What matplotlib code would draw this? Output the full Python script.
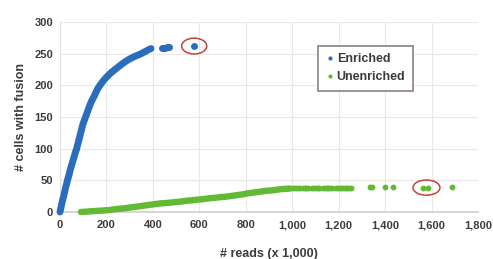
import matplotlib
matplotlib.use("Agg")
import matplotlib.pyplot as plt
from matplotlib.patches import Ellipse

# ---- data (reads in thousands, cumulative # cells with fusion) ----
# continuous (dense) part of each curve
enriched_cells = [0, 5, 10, 15, 20, 25, 30, 35, 40, 45, 50, 55, 60, 65, 70, 75, 80, 85,
                  90, 95, 100, 105, 110, 115, 120, 125, 130, 135, 140, 145, 150, 155,
                  160, 165, 170, 175, 180, 185, 190, 195, 200, 205, 210, 215, 220, 225,
                  230, 235, 240, 245, 250, 253, 256, 258]
enriched_reads = [0, 3, 6, 9, 12, 16, 19, 22, 25, 29, 32, 36, 40, 43, 47, 51, 55, 59,
                  63, 67, 72, 75, 79, 82, 86, 89, 93, 96, 100, 105, 110, 115,
                  120, 125, 130, 136, 143, 150, 156, 163, 172, 182, 193, 206, 220, 237,
                  254, 272, 292, 318, 350, 365, 380, 392]
# isolated high-read cells
enriched_cells_tail = [259, 259, 259, 260, 260, 262]
enriched_reads_tail = [441, 447, 453, 462, 469, 578]

unenriched_reads = [90, 110, 130, 150, 170, 190, 210, 230, 250, 270, 290, 310, 330, 350,
                    370, 390, 410, 430, 450, 470, 490, 510, 530, 550, 570, 590, 610, 630,
                    650, 670, 690, 710, 730, 750, 770, 790, 810, 830, 850, 870, 890, 910,
                    930, 950, 970, 990]
unenriched_cells = [0, 0.5, 1, 1.5, 2, 2.5, 3, 4, 5, 5.5, 6.5, 7.5, 8.5, 9.5,
                    10.5, 11.5, 12.5, 13.5, 14, 14.5, 15.5, 16, 17, 18, 18.5, 19.5, 20, 21,
                    22, 22.5, 23.5, 24, 25, 26, 27, 28, 29.5, 30.5, 31.5, 32.5, 33.5, 34,
                    35, 36, 36.5, 37]
unenriched_reads_tail = [1000, 1008, 1016, 1024, 1032, 1045, 1053, 1061, 1069, 1085, 1093,
                         1101, 1109, 1117, 1132, 1140, 1148, 1156, 1164, 1172, 1190, 1198,
                         1206, 1214, 1222, 1230, 1238, 1246, 1254, 1336, 1345, 1401, 1435,
                         1565, 1586, 1690]
unenriched_cells_tail = [37.5, 37.5, 37.5, 37.5, 37.5, 38, 38, 38, 38, 38, 38,
                         38, 38, 38, 38, 38, 38, 38, 38, 38, 38.5, 38.5,
                         38.5, 38.5, 38.5, 38.5, 38.5, 38.5, 38.5, 39, 39, 39, 39,
                         38, 38, 39]

x_ticks = [0, 200, 400, 600, 800, 1000, 1200, 1400, 1600, 1800]
x_tick_labels = ["0", "200", "400", "600", "800", "1,000", "1,200", "1,400", "1,600", "1,800"]
y_ticks = [0, 50, 100, 150, 200, 250, 300]
y_tick_labels = ["0", "50", "100", "150", "200", "250", "300"]

# highlighted points (circled in red)
highlight_x = [578, 1578]
highlight_y = [262, 38.5]

series_names = ["Enriched", "Unenriched"]
blue = "#2b6dbd"
green = "#62b934"
text_color = "#3c3c3c"

plt.rcParams["font.family"] = ["Liberation Sans", "DejaVu Sans"]

fig = plt.figure(figsize=(4.93, 2.59), dpi=100)
ax = fig.add_axes([0.1217, 0.1815, 0.8479, 0.7336])

ms = 5.0
ax.plot(enriched_reads, enriched_cells, "-", color=blue, lw=ms, solid_capstyle="round",
        clip_on=False, zorder=3)
ax.plot(enriched_reads_tail, enriched_cells_tail, "o", color=blue, ms=ms, mec="none",
        clip_on=False, zorder=3)
ax.plot(unenriched_reads, unenriched_cells, "-", color=green, lw=4.6, solid_capstyle="round",
        clip_on=False, zorder=3)
ax.plot(unenriched_reads_tail, unenriched_cells_tail, "o", color=green, ms=4.2, mec="none",
        clip_on=False, zorder=3)

# legend handles
ax.plot([], [], "o", color=blue, ms=3, mec="none", label=series_names[0])
ax.plot([], [], "o", color=green, ms=3, mec="none", label=series_names[1])

for hx, hy, w, h in zip(highlight_x, highlight_y, [108, 116], [25, 24]):
    ax.add_patch(Ellipse((hx, hy), w, h, fill=False, edgecolor="#c9403a", lw=1.1,
                         zorder=4, clip_on=False))

ax.set_xlim(0, 1800)
ax.set_ylim(0, 300)
ax.set_xticks(x_ticks)
ax.set_xticklabels(x_tick_labels)
ax.set_yticks(y_ticks)
ax.set_yticklabels(y_tick_labels)
ax.tick_params(length=0, labelsize=8, colors=text_color)
ax.tick_params(axis="x", pad=6)
ax.tick_params(axis="y", pad=5)
for lab in ax.get_xticklabels() + ax.get_yticklabels():
    lab.set_fontweight("bold")

ax.grid(True, color="#e8e8e8", lw=0.8)
ax.set_axisbelow(True)
for side in ["top", "right"]:
    ax.spines[side].set_visible(False)
ax.spines["left"].set_color("#e0e0e0")
ax.spines["bottom"].set_color("#cfcfcf")
ax.spines["bottom"].set_linewidth(1.2)

ax.set_xlabel("# reads (x 1,000)", fontsize=9, fontweight="bold", color=text_color)
ax.set_ylabel("# cells with fusion", fontsize=9, fontweight="bold", color=text_color)
ax.xaxis.set_label_coords(0.5, -0.19)
ax.yaxis.set_label_coords(-0.08, 0.5)

leg = ax.legend(loc="upper left", bbox_to_anchor=(0.617, 0.874), borderaxespad=0,
                frameon=True, fancybox=False, framealpha=1,
                handletextpad=0.1, handlelength=0.8,
                borderpad=0.6, labelspacing=0.45, prop={"weight": "bold", "size": 9})
leg.get_frame().set_edgecolor("#8c817c")
leg.get_frame().set_linewidth(1.2)
for t in leg.get_texts():
    t.set_color(text_color)

fig.savefig("out.png", dpi=100)
